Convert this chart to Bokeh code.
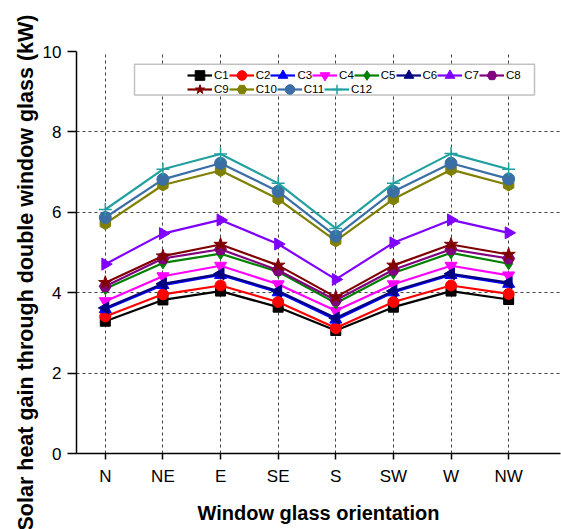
import math
from bokeh.plotting import figure
from bokeh.models import (Range1d, FixedTicker, Legend, LegendItem, BoxAnnotation, Title)
from bokeh.embed import file_html
from bokeh.resources import INLINE

categories = ["N", "NE", "E", "SE", "S", "SW", "W", "NW"]
series_names = ["C1", "C2", "C3", "C4", "C5", "C6", "C7", "C8", "C9", "C10", "C11", "C12"]

C1 = [3.29, 3.82, 4.04, 3.64, 3.06, 3.64, 4.04, 3.83]
C2 = [3.41, 3.96, 4.18, 3.77, 3.12, 3.77, 4.18, 3.97]
C3 = [3.59, 4.19, 4.44, 4.01, 3.33, 4.01, 4.44, 4.22]
C4 = [3.79, 4.41, 4.67, 4.21, 3.55, 4.21, 4.67, 4.43]
C5 = [4.10, 4.74, 4.97, 4.52, 3.74, 4.49, 4.99, 4.72]
C6 = [3.62, 4.22, 4.47, 4.04, 3.37, 4.04, 4.47, 4.25]
C7 = [4.71, 5.47, 5.81, 5.21, 4.33, 5.24, 5.81, 5.49]
C8 = [4.16, 4.85, 5.08, 4.56, 3.81, 4.57, 5.08, 4.85]
C9 = [4.25, 4.91, 5.20, 4.68, 3.89, 4.68, 5.20, 4.95]
C10 = [5.72, 6.68, 7.04, 6.33, 5.29, 6.33, 7.06, 6.68]
C11 = [5.87, 6.82, 7.22, 6.52, 5.41, 6.52, 7.22, 6.83]
C12 = [6.07, 7.07, 7.45, 6.72, 5.60, 6.72, 7.46, 7.07]

series_values = [C1, C2, C3, C4, C5, C6, C7, C8, C9, C10, C11, C12]
colors = ["#000000", "#FF0000", "#0000FF", "#FF00FF", "#008000", "#000080",
          "#8000FF", "#800080", "#800000", "#808000", "#3A6EA5", "#22A0A0"]
markers = ["square", "circle", "triangle", "inverted_triangle", "diamond", "triangle",
           "triangle", "hex", "star", "hex", "circle", "cross"]
angles = [0, 0, 0, 0, 0, math.pi / 2, -math.pi / 2, 0, 0, math.pi / 2, 0, 0]
sizes = [10, 11, 12, 12, 12, 12, 12, 12, 14, 12, 12, 13]

y_ticks = [0, 2, 4, 6, 8, 10]
y_grid = [2, 4, 6, 8]
FONT = "Liberation Sans"

x = list(range(len(categories)))

p = figure(width=561, height=529, output_backend="svg", toolbar_location=None,
           x_range=Range1d(-0.5, 7.9), y_range=Range1d(0, 10),
           min_border_left=76, min_border_right=1, min_border_top=51, min_border_bottom=76)
p.outline_line_color = None
p.background_fill_color = "white"
p.border_fill_color = "white"

# axes
p.xaxis.ticker = FixedTicker(ticks=x)
p.xaxis.major_label_overrides = {i: c for i, c in enumerate(categories)}
p.xaxis.minor_tick_line_color = None
p.yaxis.ticker = FixedTicker(ticks=y_ticks)
p.yaxis.minor_tick_line_color = None
for ax in (p.xaxis, p.yaxis):
    ax.axis_line_color = "black"
    ax.axis_line_width = 1.5
    ax.major_tick_line_color = "black"
    ax.major_tick_line_width = 1.5
    ax.major_tick_in = 0
    ax.major_label_text_font = FONT
    ax.major_label_text_font_size = "17px"
    ax.major_label_text_color = "black"
p.xaxis.major_tick_out = 6
p.xaxis.major_label_standoff = 7
p.yaxis.major_tick_out = 9
p.yaxis.major_label_standoff = 6

p.xaxis.axis_label = "Window glass orientation"
p.xaxis.axis_label_text_font = FONT
p.xaxis.axis_label_text_font_size = "20px"
p.xaxis.axis_label_text_font_style = "bold"
p.xaxis.axis_label_text_color = "black"
p.xaxis.axis_label_standoff = 13

p.add_layout(Title(text="Solar heat gain through double window glass (kW)", align="left",
                   offset=-77, text_font=FONT, text_font_size="21.5px",
                   text_font_style="bold", text_color="black", standoff=4), "left")

# grid
p.xgrid.ticker = FixedTicker(ticks=x)
p.ygrid.ticker = FixedTicker(ticks=y_grid)
for g in (p.xgrid, p.ygrid):
    g.grid_line_color = "#444444"
    g.grid_line_dash = "3 3"
    g.grid_line_width = 1

# legend box
p.add_layout(BoxAnnotation(left=0.507, right=7.449, top=9.68, bottom=8.92,
                           fill_color="white", fill_alpha=1.0,
                           line_color="#333333", line_width=1.5, level="annotation"))

items = []
for name, vals, col, mk, ang, sz in zip(series_names, series_values, colors, markers, angles, sizes):
    lr = p.line(x, vals, line_color=col, line_width=2.2)
    if mk == "cross":
        sr = p.scatter(x, vals, marker=mk, size=sz, line_color=col, line_width=1.5)
    else:
        sr = p.scatter(x, vals, marker=mk, size=sz, angle=ang, fill_color=col, line_color=col)
    items.append(LegendItem(label=name, renderers=[lr, sr]))

def make_legend(its, loc):
    lg = Legend(items=its, location=loc, orientation="horizontal",
                glyph_width=25, glyph_height=24, label_height=24, label_width=0,
                label_standoff=2, spacing=0, padding=0, margin=0,
                background_fill_alpha=0, border_line_alpha=0,
                label_text_font=FONT, label_text_font_size="11.5px", label_text_color="black")
    return lg

p.add_layout(make_legend(items[:8], (111, 366)))
p.add_layout(make_legend(items[8:], (111, 352)))

open("out.html", "w").write(file_html(p, INLINE))
